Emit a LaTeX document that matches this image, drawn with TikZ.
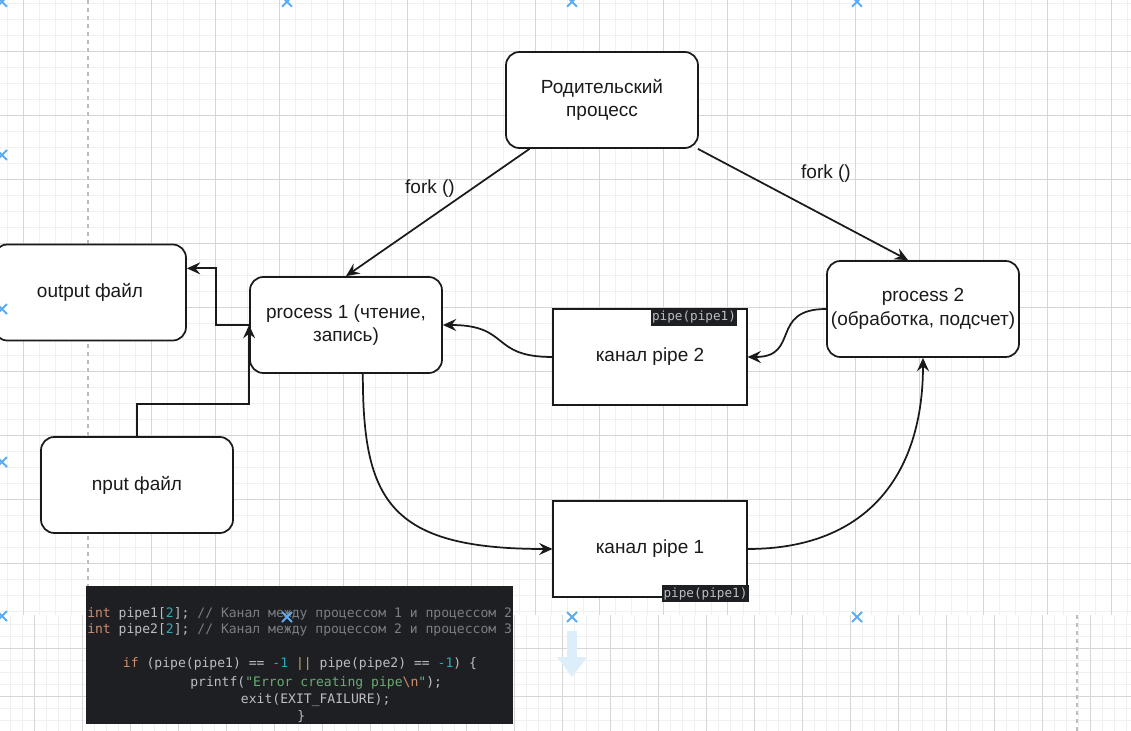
\documentclass[tikz,border=0pt]{standalone}
\usepackage{fontspec}
\setmainfont{Liberation Sans}
\newfontfamily\codefont{DejaVu Sans Mono}
\usetikzlibrary{arrows.meta}
\definecolor{gridminor}{HTML}{F0F0F0}
\definecolor{gridmajor}{HTML}{D6D6D6}
\definecolor{pagebreak}{HTML}{BDBDBD}
\definecolor{pagemark}{HTML}{5AACF5}
\definecolor{fadeblue}{HTML}{DDEEFB}
\definecolor{linecol}{HTML}{1A1A1A}
\definecolor{codebg}{HTML}{1E1F22}
\definecolor{codetxt}{HTML}{BCBEC4}
\definecolor{codekw}{HTML}{CF8E6D}
\definecolor{codenum}{HTML}{2AACB8}
\definecolor{codecmt}{HTML}{7A7E85}
\definecolor{codestr}{HTML}{6AAB73}
\definecolor{codeop}{HTML}{C9A26D}

\begin{document}
\begin{tikzpicture}[x=0.75pt,y=-0.75pt,
	proc/.style={draw=linecol,line width=1.3pt,fill=white,rounded corners=10pt,minimum width=144pt,minimum height=72pt,inner sep=0pt,align=center,text=linecol,font=\fontsize{14.25}{17.5}\selectfont},
	chan/.style={proc,sharp corners,minimum width=145pt},
	tag/.style={fill=codebg,text=codetxt,inner sep=1pt,minimum height=12.5pt,font=\codefont\fontsize{9.5}{11}\selectfont},
	link/.style={draw=linecol,line width=1.3pt,-{Stealth[length=10pt,width=9pt,inset=3.5pt]}},
	lbl/.style={text=linecol,font=\fontsize{14.25}{17.5}\selectfont},
	code/.style={anchor=base west,inner sep=0pt,text=codetxt,font=\codefont\fontsize{9.8}{12}\selectfont},
	pagecross/.style={draw=pagemark,line width=1.4pt},
	]
	\useasboundingbox (0,0) rectangle (1131,731);
	\clip (0,0) rectangle (1131,731);
	\fill[white] (0,0) rectangle (1131,731);
	\foreach \x in {7,23,...,1131}
	\draw[gridminor,line width=0.75pt] (\x,0) -- (\x,615);
	\foreach \y in {3.7,19.7,...,615}
	\draw[gridminor,line width=0.75pt] (0,\y) -- (1131,\y);
	\foreach \x in {23,87,...,1131}
	\draw[gridmajor,line width=0.75pt] (\x,0) -- (\x,615);
	\foreach \y in {51.7,115.7,...,615}
	\draw[gridmajor,line width=0.75pt] (0,\y) -- (1131,\y);
	\fill[white] (0,615) rectangle (1131,731);
	\foreach \x in {10.3,22.3,...,1131}
	\draw[gridminor,line width=0.75pt] (\x,615) -- (\x,731);
	\foreach \y in {624.3,636.3,...,731}
	\draw[gridminor,line width=0.75pt] (0,\y) -- (1131,\y);
	\foreach \x in {34.3,82.3,...,1131}
	\draw[gridmajor,line width=0.75pt] (\x,615) -- (\x,731);
	\foreach \y in {648.3,696.3}
	\draw[gridmajor,line width=0.75pt] (0,\y) -- (1131,\y);
	\draw[white,line width=1.5pt] (87,0) -- (87,615);
	\draw[pagebreak,line width=1.1pt,dash pattern=on 3pt off 3pt] (88,0) -- (88,615);
	\draw[white,line width=1.5pt] (1077,615) -- (1077,731);
	\draw[pagebreak,line width=1.1pt,dash pattern=on 3pt off 3pt] (1077,615) -- (1077,731);

	\node[proc] (parent) at (602,100) {Родительский\\процесс};
	\node[proc] (proc1) at (346,325) {process 1 (чтение,\\запись)};
	\node[proc] (proc2) at (923,309) {process 2\\(обработка, подсчет)};
	\node[proc] (output) at (90,292.5) {output файл};
	\node[proc] (input) at (137,485) {nput файл};
	\node[chan] (pipe2) at (650,357) {канал pipe 2};
	\node[chan] (pipe1) at (650,549) {канал pipe 1};
	\node[tag] (tag2) at (694,317.5) {pipe(pipe1)};
	\node[tag] (tag1) at (705.5,593.5) {pipe(pipe1)};
	\node[lbl] (fork1) at (430,189) {fork ()};
	\node[lbl] (fork2) at (826,174) {fork ()};

	\draw[link] (parent.214.4) -- (proc1.north);
	\draw[link] (parent.-27.3) -- (proc2.107);
	\draw[link] (proc1.west) -- ++(-33,0) |- (output.14);
	\draw[link] (input.north) -- ++(0,-32) -| (proc1.west);
	\draw[link] (pipe2.west) .. controls +(-63,0) and +(68,0) .. (proc1.east);
	\draw[link] (proc2.west) .. controls +(-57,0) and +(53,0) .. (pipe2.east);
	\draw[link] (proc1.-71.6) .. controls +(0,127) and +(-163,0) .. (pipe1.west);
	\draw[link] (pipe1.east) .. controls +(123,0) and +(0,113) .. (proc2.south);

	\fill[codebg] (86,586) rectangle (513,724);
	\begin{scope}
		\clip (86,586) rectangle (513,724);
		\node[code] (line1) at (87,617) {\textcolor{codekw}{int} pipe1[\textcolor{codenum}{2}]; \textcolor{codecmt}{// Канал между процессом 1 и процессом 2}};
		\node[code] (line2) at (87,633) {\textcolor{codekw}{int} pipe2[\textcolor{codenum}{2}]; \textcolor{codecmt}{// Канал между процессом 2 и процессом 3}};
		\node[code] (line3) at (122.7,667.5) {\textcolor{codekw}{if} (pipe(pipe1) == \textcolor{codenum}{-1} \textcolor{codeop}{||} pipe(pipe2) == \textcolor{codenum}{-1}) \{};
		\node[code] (line4) at (190,686) {printf(\textcolor{codestr}{"Error creating pipe}\textcolor{codekw}{\textbackslash n}\textcolor{codestr}{"});};
		\node[code] (line5) at (240.7,703.5) {exit(EXIT\_FAILURE);};
		\node[code] (line6) at (297,720) {\}};
	\end{scope}

	\fill[fadeblue] (567,631) rectangle (577,658);
	\fill[fadeblue] (557,657) -- (587,657) -- (572,677) -- cycle;
	\foreach \p in {(2,1.7),(287,1.7),(572,1.7),(857,1.7),(2,155),(2,309),(2,462),(2,616),(287,617),(572,617),(857,617)}
	\draw[pagecross] \p ++(-5,-5) -- ++(10,10) \p ++(-5,5) -- ++(10,-10);
\end{tikzpicture}
\end{document}
